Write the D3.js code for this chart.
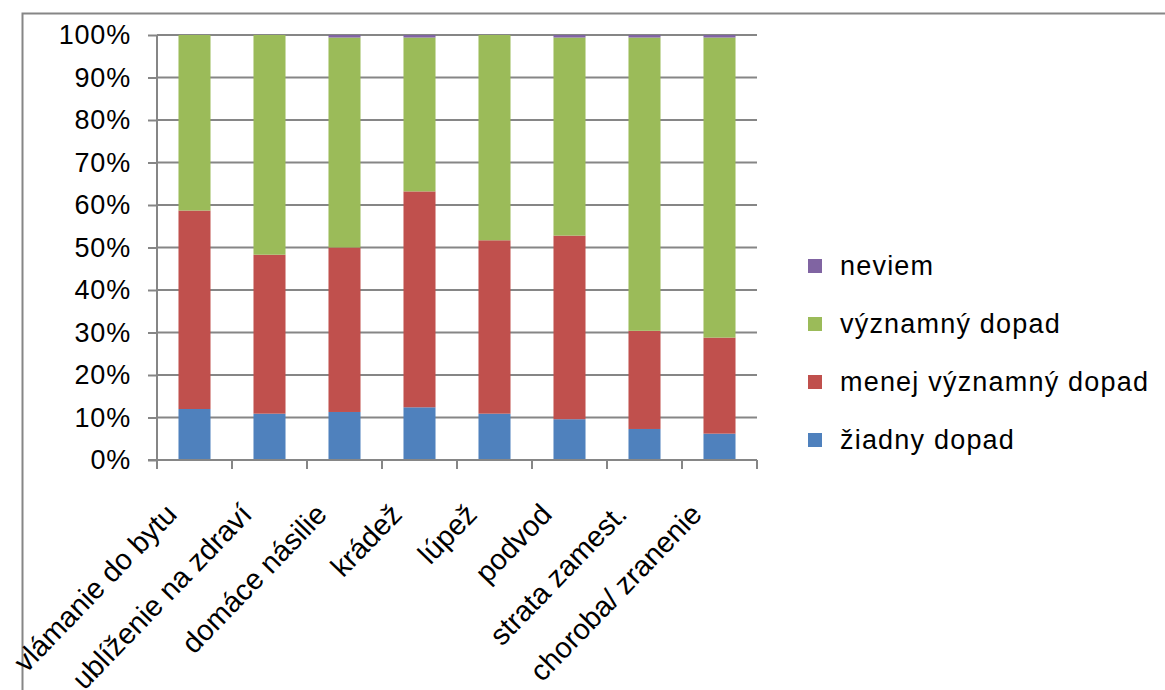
<!DOCTYPE html>
<html>
<head>
<meta charset="utf-8">
<script src="https://cdn.jsdelivr.net/npm/d3@7"></script>
<style>
body { margin: 0; background: #fff; }
text { font-family: "Liberation Sans", Arial, sans-serif; fill: #000; }
</style>
</head>
<body>
<svg id="chart"></svg>
<script>
var categories = ["vlámanie do bytu", "ublíženie na zdraví", "domáce násilie", "krádež", "lúpež", "podvod", "strata zamest.", "choroba/ zranenie"];
var seriesNames = ["žiadny dopad", "menej významný dopad", "významný dopad", "neviem"];
var ziadny = [12.0, 10.9, 11.3, 12.4, 10.9, 9.6, 7.3, 6.2];
var menej = [46.7, 37.4, 38.7, 50.8, 40.8, 43.2, 23.1, 22.6];
var vyznamny = [41.3, 51.7, 49.4, 36.2, 48.3, 46.6, 69.0, 70.6];
var neviem = [0, 0, 0.6, 0.6, 0, 0.6, 0.6, 0.6];
var colors = ["#4F81BD", "#C0504D", "#9BBB59", "#8064A2"];
var yTicks = [0, 0.1, 0.2, 0.3, 0.4, 0.5, 0.6, 0.7, 0.8, 0.9, 1];

// tabulka pre d3.stack
var rows = categories.map(function(c, i){
	return {cat: c, s0: ziadny[i], s1: menej[i], s2: vyznamny[i], s3: neviem[i]};
});
var stacked = d3.stack()
	.keys(["s0", "s1", "s2", "s3"])
	.offset(d3.stackOffsetExpand)(rows);

var width = 1165, height = 690;
var plotLeft = 157, plotRight = 757, plotTop = 35, plotBottom = 460;

var svg = d3.select("#chart")
	.attr("width", width)
	.attr("height", height);

// - ramik grafu
svg.append("path")
	.attr("d", "M22.5," + height + "V13.5H" + width)
	.attr("fill", "none")
	.attr("stroke", "#868686")
	.attr("stroke-width", 2);

var x = d3.scaleBand()
	.domain(categories)
	.range([plotLeft, plotRight])
	.paddingInner(0.573)
	.paddingOuter(0.2865);

var xCat = d3.scaleBand()
	.domain(categories)
	.range([plotLeft, plotRight])
	.padding(0);

var y = d3.scaleLinear()
	.domain([0, 1])
	.range([plotBottom, plotTop]);

// - mriezka
svg.append("g")
	.selectAll("line")
	.data(yTicks.slice(1))
	.enter().append("line")
	.attr("x1", plotLeft)
	.attr("x2", plotRight)
	.attr("y1", function(d){return y(d);})
	.attr("y2", function(d){return y(d);})
	.attr("stroke", "#868686")
	.attr("stroke-width", 2);

// - stlpce
svg.append("g")
	.selectAll("g")
	.data(stacked)
	.enter().append("g")
	.attr("fill", function(d, i){return colors[i];})
	.selectAll("rect")
	.data(function(d){return d;})
	.enter().append("rect")
	.attr("x", function(d){return x(d.data.cat);})
	.attr("width", x.bandwidth())
	.attr("y", function(d){return y(d[1]);})
	.attr("height", function(d){return y(d[0]) - y(d[1]);});

// - os y
var yAxis = svg.append("g")
	.attr("transform", "translate(" + plotLeft + ",0)")
	.call(d3.axisLeft(y).tickValues(yTicks).tickFormat(d3.format(".0%")).tickSize(9).tickPadding(17));
yAxis.selectAll("line, path").attr("stroke", "#868686").attr("stroke-width", 2);
yAxis.select(".domain").attr("d", "M0," + plotBottom + "V" + plotTop);
yAxis.selectAll("text")
	.style("font-family", "'Liberation Sans', Arial, sans-serif")
	.style("font-size", "27px")
	.style("letter-spacing", "0.8px")
	.attr("fill", "#000");

// - os x
svg.append("line")
	.attr("x1", plotLeft - 9)
	.attr("x2", plotRight)
	.attr("y1", plotBottom)
	.attr("y2", plotBottom)
	.attr("stroke", "#868686")
	.attr("stroke-width", 2);

svg.append("g")
	.selectAll("line")
	.data(categories.map(function(c){return xCat(c);}).concat([plotRight]))
	.enter().append("line")
	.attr("x1", function(d){return d;})
	.attr("x2", function(d){return d;})
	.attr("y1", plotBottom)
	.attr("y2", plotBottom + 9)
	.attr("stroke", "#868686")
	.attr("stroke-width", 2);

svg.append("g")
	.selectAll("text")
	.data(categories)
	.enter().append("text")
	.attr("text-anchor", "end")
	.attr("transform", function(d){return "translate(" + (xCat(d) + xCat.bandwidth() / 2 - 16) + ",516) rotate(-46)";})
	.style("font-size", "29px")
	.text(function(d){return d;});

// - legenda
var legend = svg.append("g")
	.selectAll("g")
	.data(seriesNames.slice().reverse())
	.enter().append("g")
	.attr("transform", function(d, i){return "translate(808," + (266 + i * 58) + ")";});

legend.append("rect")
	.attr("y", -7)
	.attr("width", 14)
	.attr("height", 14)
	.attr("fill", function(d, i){return colors[3 - i];});

legend.append("text")
	.attr("x", 32)
	.attr("dy", "0.35em")
	.style("font-size", "27px")
	.style("letter-spacing", "1.2px")
	.text(function(d){return d;});
</script>
</body>
</html>
